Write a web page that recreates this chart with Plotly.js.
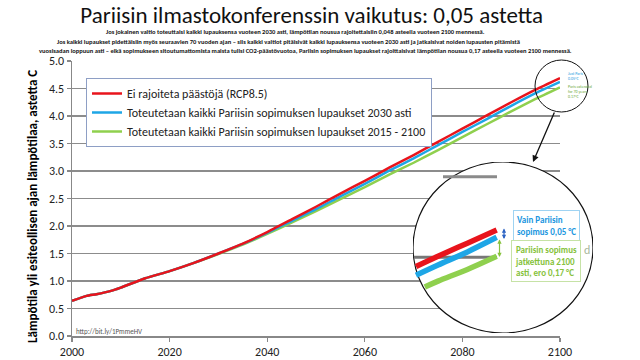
<!DOCTYPE html>
<html>
<head>
<meta charset="utf-8">
<script src="https://cdn.plot.ly/plotly-3.0.1.min.js"></script>
<style>html,body{margin:0;padding:0;background:#fff;}#chart{width:640px;height:360px;}</style>
</head>
<body>
<div id="chart"></div>
<script>
// ---- data ----
var years = [2000, 2003, 2005, 2008, 2010, 2015, 2020, 2025, 2030, 2035, 2040, 2045, 2050, 2055, 2060, 2065, 2070, 2075, 2080, 2085, 2090, 2095, 2100];
var rcp85 = [0.64, 0.73, 0.76, 0.82, 0.88, 1.05, 1.18, 1.33, 1.50, 1.68, 1.89, 2.12, 2.35, 2.59, 2.82, 3.06, 3.29, 3.53, 3.77, 4.01, 4.25, 4.48, 4.69];
var paris2030 = [0.64, 0.73, 0.76, 0.82, 0.88, 1.05, 1.18, 1.33, 1.50, 1.675, 1.875, 2.09, 2.305, 2.54, 2.765, 3.005, 3.23, 3.47, 3.71, 3.945, 4.185, 4.415, 4.62];
var paris2100 = [0.64, 0.73, 0.76, 0.82, 0.88, 1.05, 1.18, 1.33, 1.49, 1.66, 1.855, 2.06, 2.27, 2.49, 2.705, 2.935, 3.15, 3.38, 3.615, 3.85, 4.085, 4.31, 4.52];
var seriesNames = ["Ei rajoiteta päästöjä (RCP8.5)", "Toteutetaan kaikki Pariisin sopimuksen lupaukset 2030 asti", "Toteutetaan kaikki Pariisin sopimuksen lupaukset 2015 - 2100"];

// magnified inset (schematic zoom of the line ends)
var insetYearsRB = [2094.5, 2096, 2098, 2100];
var insetYearsG = [2095.1, 2096, 2098, 2100];
var insetRed = [4.43, 4.50, 4.59, 4.68];
var insetBlue = [4.37, 4.44, 4.53, 4.63];
var insetGreen = [4.29, 4.33, 4.41, 4.50];

var xTicks = [2000, 2020, 2040, 2060, 2080, 2100];

var titleText = "Pariisin ilmastokonferenssin vaikutus: 0,05 astetta";
var sub1 = "Jos jokainen valtio toteuttaisi kaikki lupauksensa vuoteen 2030 asti, lämpötilan nousua rajoitettaisiin 0,048 asteella vuoteen 2100 mennessä.";
var sub2 = "Jos kaikki lupaukset pidettäisiin myös seuraavien 70 vuoden ajan – siis kaikki valtiot pitäisivät kaikki lupauksensa vuoteen 2030 asti ja jatkaisivat noiden lupausten pitämistä";
var sub3 = "vuosisadan loppuun asti – eikä sopimukseen sitoutumattomista maista tulisi CO2-päästövuotoa, Pariisin sopimuksen lupaukset rajoittaisivat lämpötilan nousua 0,17 asteella vuoteen 2100 mennessä.";
var yTitle = "Lämpötila yli esiteollisen ajan lämpötilaa, astetta C";

var RED = "#e8141c", BLUE = "#1ea6e6", GREEN = "#8fd04e";
var FONT = "Carlito, 'Liberation Sans Narrow', Lato, sans-serif";

// ---- geometry helpers (pixel -> paper) ----
var L = 72, R = 30, T = 61, B = 24, W = 640, H = 360;
var PW = W - L - R, PH = H - T - B;
function px(x) { return (x - L) / PW; }
function py(y) { return (H - B - y) / PH; }

var insetX = [2094.295, 2106.565];
var insetY = [3.9745, 5.1458];

var traces = [
  {x: years, y: paris2100, name: seriesNames[2], type: "scatter", mode: "lines",
   line: {color: GREEN, width: 2.5, shape: "spline", smoothing: 0.5}, xaxis: "x", yaxis: "y"},
  {x: years, y: paris2030, name: seriesNames[1], type: "scatter", mode: "lines",
   line: {color: BLUE, width: 2.5, shape: "spline", smoothing: 0.5}, xaxis: "x", yaxis: "y"},
  {x: years, y: rcp85, name: seriesNames[0], type: "scatter", mode: "lines",
   line: {color: RED, width: 2.5, shape: "spline", smoothing: 0.5}, xaxis: "x", yaxis: "y"},
  {x: insetYearsG, y: insetGreen, type: "scatter", mode: "lines", showlegend: false,
   line: {color: GREEN, width: 5.5, shape: "spline"}, xaxis: "x2", yaxis: "y2"},
  {x: insetYearsRB, y: insetBlue, type: "scatter", mode: "lines", showlegend: false,
   line: {color: BLUE, width: 5.5, shape: "spline"}, xaxis: "x2", yaxis: "y2"},
  {x: insetYearsRB, y: insetRed, type: "scatter", mode: "lines", showlegend: false,
   line: {color: RED, width: 5.5, shape: "spline"}, xaxis: "x2", yaxis: "y2"}
];

var layout = {
  width: W, height: H,
  margin: {l: L, r: R, t: T, b: B},
  paper_bgcolor: "#ffffff",
  plot_bgcolor: "rgba(0,0,0,0)",
  font: {family: FONT, color: "#222"},
  title: {text: titleText, font: {family: FONT, size: 23, color: "#111"},
          x: 0.487, xanchor: "center", xref: "container", y: 0.958, yanchor: "middle", yref: "container"},
  showlegend: true,
  legend: {x: px(86), y: py(78), xanchor: "left", yanchor: "top", traceorder: "reversed",
           bgcolor: "#ffffff", bordercolor: "#8e9fc5", borderwidth: 1,
           font: {family: FONT, size: 12, color: "#222"}, itemwidth: 30},
  xaxis: {domain: [0, px(560)], range: [2000, 2100], tickvals: xTicks, ticks: "outside", ticklen: 4,
          tickcolor: "#888", tickwidth: 1.2, showline: true, linecolor: "#888", linewidth: 1.5,
          showgrid: false, zeroline: false, tickfont: {family: FONT, size: 12, color: "#222"}, anchor: "y", fixedrange: true},
  yaxis: {domain: [0, 1], range: [0, 5], dtick: 0.5, tick0: 0, tickformat: ".1f", ticks: "outside", ticklen: 4,
          tickcolor: "#888", tickwidth: 1.2, showline: true, linecolor: "#888", linewidth: 1.5,
          showgrid: true, gridcolor: "#8c8c8c", gridwidth: 1.5, zeroline: false,
          tickfont: {family: FONT, size: 12, color: "#222"}, anchor: "x", fixedrange: true},
  xaxis2: {domain: [px(413), px(593)], range: insetX, visible: false, anchor: "y2", fixedrange: true},
  yaxis2: {domain: [py(333), py(162)], range: insetY, visible: false, anchor: "x2", fixedrange: true},
  shapes: [
    // magnifier circle (covers grid)
    {type: "circle", xref: "x2", yref: "y2", x0: insetX[0], x1: insetX[1], y0: insetY[0], y1: insetY[1],
     fillcolor: "#ffffff", line: {color: "#111", width: 1.2}, layer: "below"},
    // magnified gridline pieces
    {type: "line", xref: "x2", yref: "y2", x0: 2096.34, x1: 2100.02, y0: 5.045, y1: 5.045,
     line: {color: "#8a8a8a", width: 3}, layer: "below"},
    {type: "line", xref: "x2", yref: "y2", x0: 2094.35, x1: 2100.02, y0: 4.493, y1: 4.493,
     line: {color: "#777", width: 3}, layer: "below"},
    // small circle at line ends
    {type: "circle", xref: "paper", yref: "paper", x0: px(535), x1: px(588), y0: py(112), y1: py(60),
     line: {color: "#111", width: 1}, layer: "above"}
  ],
  annotations: [
    {text: sub1, xref: "paper", yref: "paper", x: px(295), y: py(32), xanchor: "center", yanchor: "middle",
     showarrow: false, font: {family: FONT, size: 6.5, color: "#111", weight: "bold"}},
    {text: sub2, xref: "paper", yref: "paper", x: px(288), y: py(41.5), xanchor: "center", yanchor: "middle",
     showarrow: false, font: {family: FONT, size: 6.5, color: "#111", weight: "bold"}},
    {text: sub3, xref: "paper", yref: "paper", x: px(305), y: py(50.5), xanchor: "center", yanchor: "middle",
     showarrow: false, font: {family: FONT, size: 6.5, color: "#111", weight: "bold"}},
    {text: yTitle, xref: "paper", yref: "paper", x: px(32), y: py(207), xanchor: "center", yanchor: "middle",
     textangle: -90, showarrow: false, font: {family: FONT, size: 13, color: "#000", weight: "bold"}},
    {text: "http://bit.ly/1PmmeHV", xref: "paper", yref: "paper", x: px(74), y: py(331), xanchor: "left", yanchor: "middle",
     showarrow: false, font: {family: FONT, size: 7, color: "#555"}},
    // arrow from small circle to magnifier
    {text: "", xref: "paper", yref: "paper", x: px(533), y: py(162), ax: 22, ay: -51, showarrow: true,
     arrowhead: 2, arrowsize: 1, arrowwidth: 1.3, arrowcolor: "#111"},
    // tiny labels inside small circle
    {text: "Just Paris<br>0.05°C", xref: "paper", yref: "paper", x: px(566), y: py(76), xanchor: "left", yanchor: "middle",
     align: "left", showarrow: false, font: {family: FONT, size: 4, color: "#1e9be0"}},
    {text: "Paris extended<br>for 70 years<br>0.17°C", xref: "paper", yref: "paper", x: px(566), y: py(91), xanchor: "left", yanchor: "middle",
     align: "left", showarrow: false, font: {family: FONT, size: 4, color: "#6aa83a"}},
    // inset labels
    {text: "Vain Pariisin<br>sopimus 0,05 °C", xref: "paper", yref: "paper", x: px(546.5), y: py(225), xanchor: "center", yanchor: "middle",
     align: "left", showarrow: false, bgcolor: "#fff", bordercolor: "#9fd3f2", borderwidth: 1, borderpad: 3,
     font: {family: FONT, size: 9, color: "#2196e0", weight: "bold"}},
    {text: "Pariisin sopimus<br>jatkettuna 2100<br>asti, ero 0,17 °C", xref: "paper", yref: "paper", x: px(545.5), y: py(261), xanchor: "center", yanchor: "middle",
     align: "left", showarrow: false, bgcolor: "#fff", bordercolor: "#c6e2a6", borderwidth: 1, borderpad: 3,
     font: {family: FONT, size: 9, color: "#86c23c", weight: "bold"}},
    {text: "d", xref: "paper", yref: "paper", x: px(587), y: py(250), xanchor: "center", yanchor: "middle",
     showarrow: false, font: {family: FONT, size: 12, color: "#a9b89c"}},
    // double arrows
    {text: "", xref: "paper", yref: "paper", x: px(504), y: py(239), ax: 0, ay: -12, showarrow: true,
     arrowside: "end+start", arrowhead: 2, arrowsize: 0.7, arrowwidth: 1.2, arrowcolor: "#2c63c4", standoff: 0, startstandoff: 0},
    {text: "", xref: "paper", yref: "paper", x: px(499.5), y: py(257), ax: 0, ay: -19, showarrow: true,
     arrowside: "end+start", arrowhead: 2, arrowsize: 0.7, arrowwidth: 1.2, arrowcolor: "#86c23c", standoff: 0, startstandoff: 0}
  ]
};

Plotly.newPlot("chart", traces, layout, {displayModeBar: false, staticPlot: true});
</script>
</body>
</html>
